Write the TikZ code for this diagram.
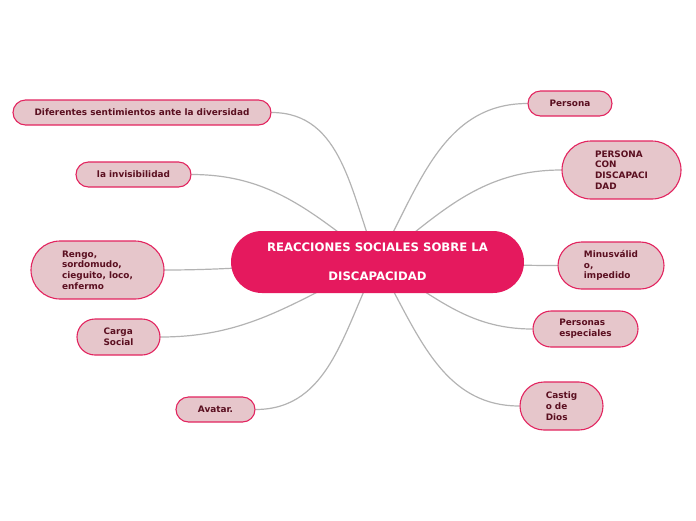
\documentclass[tikz,border=0pt]{standalone}
\usepackage{fontspec}
\setmainfont{DejaVu Sans}
\usepackage{xcolor}
\usetikzlibrary{shapes.misc,backgrounds}
\definecolor{rootfill}{HTML}{E5195E}
\definecolor{topicfill}{HTML}{E6C6CB}
\definecolor{topicline}{HTML}{E2245F}
\definecolor{topictext}{HTML}{5A0F20}
\definecolor{linkgray}{HTML}{B3B3B3}

\begin{document}
\begin{tikzpicture}[x=1pt,y=-1pt,
root/.style={rounded rectangle, fill=rootfill, inner sep=0pt, align=center, text=white, font=\fontsize{11.7}{28.7}\selectfont\bfseries},
topic/.style={rounded rectangle, draw=topicline, line width=1.1pt, fill=topicfill, inner sep=0pt, align=left, text=topictext, font=\fontsize{8.9}{10.7}\selectfont\bfseries},
link/.style={draw=linkgray, line width=1.2pt}
]
\useasboundingbox (0,0) rectangle (696,520);
\node[root, minimum width=293pt, minimum height=62pt] (root) at (377.5,262) {REACCIONES SOCIALES SOBRE LA\\DISCAPACIDAD};
\node[topic, minimum width=258pt, minimum height=25pt] (dif) at (142,112.5) {Diferentes sentimientos ante la diversidad};
\node[topic, minimum width=115pt, minimum height=25pt] (inv) at (133.5,174.5) {la invisibilidad};
\node[topic, minimum width=133pt, minimum height=58pt] (ren) at (97.5,270) {Rengo,\\sordomudo,\\cieguito, loco,\\enfermo};
\node[topic, minimum width=83pt, minimum height=36pt] (car) at (118.5,337) {Carga\\Social};
\node[topic, minimum width=79pt, minimum height=25pt] (ava) at (215.5,409.5) {Avatar.};
\node[topic, minimum width=84pt, minimum height=25pt] (per) at (570,103.5) {Persona};
\node[topic, minimum width=119pt, minimum height=58pt] (pcd) at (621.5,170) {PERSONA\\CON\\DISCAPACI\\DAD};
\node[topic, minimum width=106pt, minimum height=47pt] (min) at (611,265.5) {Minusválid\\o,\\impedido};
\node[topic, minimum width=105pt, minimum height=36pt] (pes) at (585.5,329) {Personas\\especiales};
\node[topic, minimum width=83pt, minimum height=48pt] (cas) at (561.5,406) {Castig\\o de\\Dios};
\begin{pgfonlayer}{background}
\draw[link] (root.center) to[out=112,in=0] (dif.east);
\draw[link] (root.center) to[out=143,in=0] (inv.east);
\draw[link] (root.center) to[out=180,in=0] (ren.east);
\draw[link] (root.center) to[out=205,in=0] (car.east);
\draw[link] (root.center) to[out=243,in=0] (ava.east);
\draw[link] (root.center) to[out=61,in=180] (per.west);
\draw[link] (root.center) to[out=38,in=180] (pcd.west);
\draw[link] (root.center) to[out=0,in=180] (min.west);
\draw[link] (root.center) to[out=-30,in=180] (pes.west);
\draw[link] (root.center) to[out=-60,in=180] (cas.west);
\end{pgfonlayer}
\end{tikzpicture}
\end{document}
